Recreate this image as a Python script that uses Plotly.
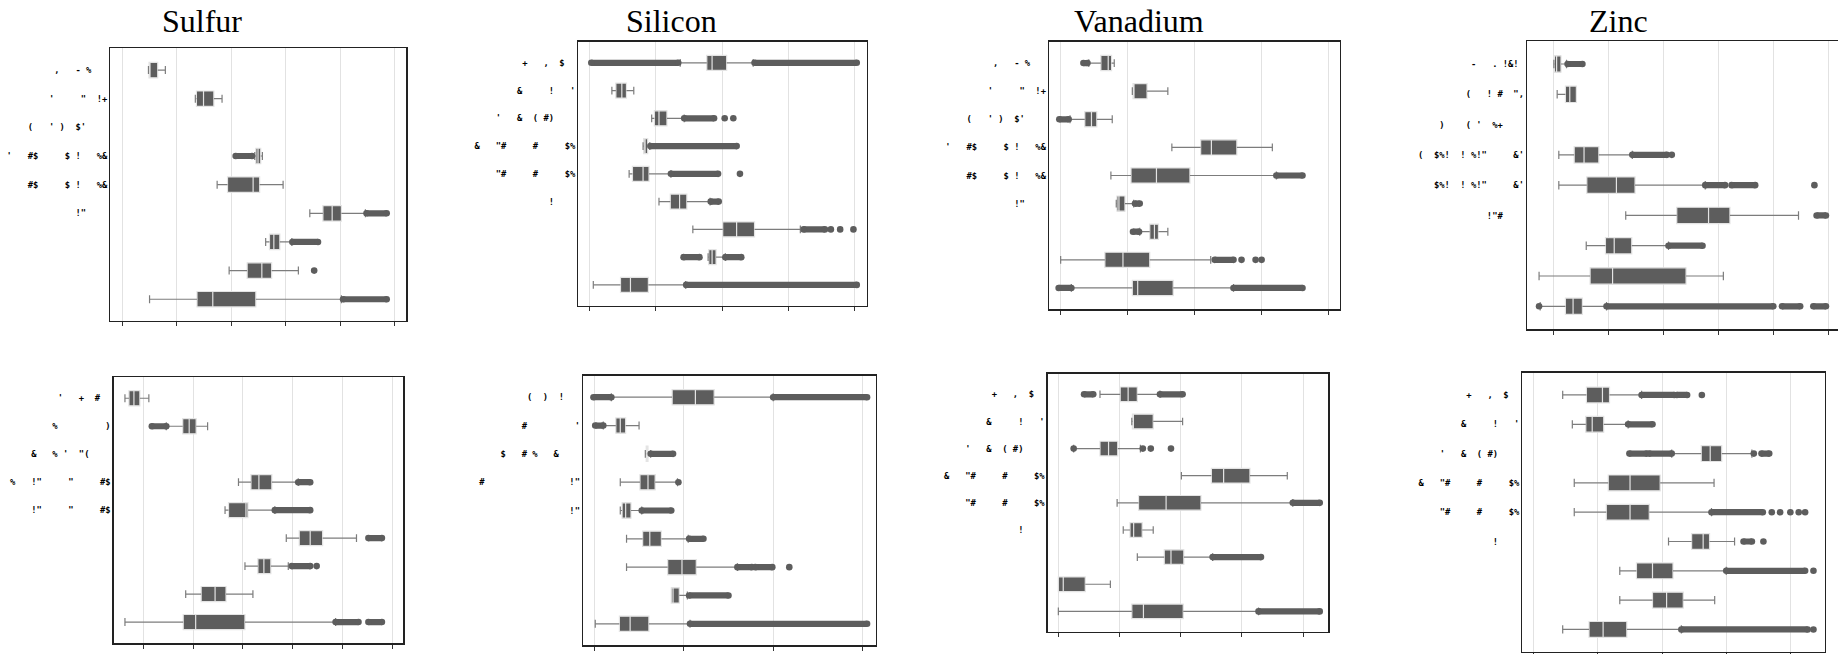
import math
import plotly.graph_objects as go

W, H = 1838, 654
NB = "\u00a0"

# ---------------- titles ----------------
titles = ["Sulfur", "Silicon", "Vanadium", "Zinc"]

# ---------------- row labels (garbled glyphs as rendered; "_" = blank glyph) ----------------
labels_a = [",___-_%___", "'_____\"__!+", "(___'_)__$'____", "'___#$_____$_!___%&", "#$_____$_!___%&", "!\"____"]
labels_b = ["+___,__$__", "&_____!___'", "'___&__(_#)____", "&___\"#_____#_____$%", "\"#_____#_____$%", "!____"]
labels_c = ["-___._!&!_", "(___!_#__\",", ")____(_'__%+____", "(__$%!__!_%!\"_____&'", "$%!__!_%!\"_____&'", "!\"#____"]
labels_d = ["'___+__#__", "%_________)", "&___%_'__\"(____", "%___!\"_____\"_____#$", "!\"_____\"_____#$"]
labels_e = ["(__)__!___", "#_________'", "$___#_%___&____", "#________________!\"", "!\""]

# ---------------- data (x in tick units, rows 0..8 top to bottom) ----------------
# Sulfur (top)
s1_lf  = [0.48, 1.34, None, 2.43, 1.74, 3.44, 2.63, 1.96, 0.50]
s1_q1  = [0.49, 1.36, None, 2.45, 1.93, 3.68, 2.70, 2.29, 1.37]
s1_med = [0.50, 1.49, None, 2.49, 2.40, 3.85, 2.78, 2.56, 1.66]
s1_q3  = [0.65, 1.68, None, 2.54, 2.52, 4.02, 2.89, 2.74, 2.45]
s1_uf  = [0.79, 1.83, None, 2.57, 2.95, 4.46, 3.11, 3.23, 4.02]
s1_runs = [(3, 2.08, 2.38), (5, 4.48, 4.85), (6, 3.12, 3.59), (8, 4.05, 4.85)]
s1_dots = [(7, 3.52)]

# Silicon (top)
s2_lf  = [1.37, 0.34, 0.94, 0.81, 0.60, 1.05, 1.56, 1.79, 0.06]
s2_q1  = [1.77, 0.40, 0.98, 0.82, 0.65, 1.22, 2.01, 1.80, 0.47]
s2_med = [1.85, 0.49, 1.05, 0.84, 0.81, 1.36, 2.22, 1.85, 0.62]
s2_q3  = [2.07, 0.56, 1.17, 0.88, 0.90, 1.47, 2.49, 1.91, 0.89]
s2_uf  = [2.47, 0.67, 1.43, 0.91, 1.23, 1.82, 3.18, 2.05, 1.45]
s2_runs = [(0, 0.03, 1.34), (0, 2.49, 4.03), (2, 1.43, 1.88), (3, 0.92, 2.22), (4, 1.23, 1.94),
           (5, 1.83, 1.95), (6, 3.23, 3.55), (7, 1.42, 1.66), (7, 2.05, 2.29), (8, 1.46, 4.03)]
s2_dots = [(2, 2.04), (2, 2.17), (4, 2.27), (6, 3.64), (6, 3.78), (6, 3.98)]

# Vanadium (top)
s3_lf  = [0.42, 1.07, 0.14, 1.66, 0.75, 0.83, 1.18, 0.00, 0.16]
s3_q1  = [0.60, 1.08, 0.36, 2.09, 1.05, 0.84, 1.33, 0.66, 1.07]
s3_med = [0.71, 1.09, 0.46, 2.25, 1.43, 0.87, 1.40, 0.93, 1.15]
s3_q3  = [0.76, 1.29, 0.54, 2.63, 1.93, 0.96, 1.46, 1.33, 1.68]
s3_uf  = [0.80, 1.60, 0.77, 3.16, 3.22, 1.09, 1.60, 2.24, 2.58]
s3_runs = [(0, 0.34, 0.40), (2, -0.02, 0.12), (4, 3.22, 3.61), (5, 1.11, 1.18), (6, 1.08, 1.17),
           (7, 2.30, 2.58), (8, -0.03, 0.16), (8, 2.58, 3.61)]
s3_dots = [(7, 2.70), (7, 2.91), (7, 3.00)]

# Zinc (top)
s4_lf  = [0.00, 0.06, None, 0.09, 0.09, 1.31, 0.59, -0.27, -0.25]
s4_q1  = [0.01, 0.21, None, 0.37, 0.60, 2.24, 0.94, 0.66, 0.21]
s4_med = [0.05, 0.29, None, 0.55, 1.14, 2.82, 1.10, 1.07, 0.35]
s4_q3  = [0.13, 0.41, None, 0.82, 1.48, 3.21, 1.42, 2.41, 0.52]
s4_uf  = [0.23, 0.41, None, 1.43, 2.76, 4.46, 2.09, 3.09, 0.96]
s4_runs = [(0, 0.25, 0.52), (3, 1.43, 2.06), (4, 2.76, 3.12), (4, 3.24, 3.67), (5, 4.79, 4.96),
           (6, 2.09, 2.71), (8, 0.96, 4.00), (8, 4.16, 4.49), (8, 4.73, 4.96)]
s4_dots = [(3, 2.15), (4, 4.75), (8, -0.27)]

# Sulfur (bottom)
s5_lf  = [-0.37, 0.46, None, 1.91, 1.64, 2.87, 2.04, 0.85, -0.37]
s5_q1  = [-0.29, 0.79, None, 2.16, 1.71, 3.13, 2.30, 1.16, 0.80]
s5_med = [-0.19, 0.92, None, 2.32, 2.06, 3.35, 2.42, 1.44, 1.05]
s5_q3  = [-0.07, 1.06, None, 2.58, 2.10, 3.60, 2.56, 1.66, 2.04]
s5_uf  = [0.11, 1.29, None, 3.11, 2.64, 4.28, 2.91, 2.20, 3.86]
s5_runs = [(1, 0.17, 0.46), (3, 3.11, 3.35), (4, 2.64, 3.35), (5, 4.52, 4.79), (6, 2.98, 3.35),
           (8, 3.86, 4.32), (8, 4.52, 4.79)]
s5_dots = [(6, 3.48)]

# Silicon (bottom)
s6_lf  = [0.19, 0.10, 0.57, 0.29, 0.29, 0.36, 0.36, 0.86, 0.01]
s6_q1  = [0.87, 0.24, 0.58, 0.51, 0.31, 0.54, 0.82, 0.86, 0.28]
s6_med = [1.13, 0.29, 0.58, 0.60, 0.35, 0.62, 0.98, 0.88, 0.40]
s6_q3  = [1.34, 0.35, 0.60, 0.68, 0.41, 0.75, 1.14, 0.95, 0.61]
s6_uf  = [2.00, 0.50, 0.63, 0.93, 0.53, 1.05, 1.60, 1.04, 1.07]
s6_runs = [(0, -0.01, 0.19), (0, 2.00, 3.05), (1, 0.01, 0.10), (2, 0.63, 0.88), (4, 0.53, 0.86),
           (5, 1.06, 1.22), (6, 1.60, 1.76), (6, 1.80, 1.99), (7, 1.06, 1.50), (8, 1.07, 3.05)]
s6_dots = [(3, 0.94), (6, 2.18)]

# Vanadium (bottom)
s7_lf  = [0.68, 1.20, 0.25, 2.01, 0.96, 1.06, 1.29, 0.00, 0.00]
s7_q1  = [1.01, 1.21, 0.68, 2.50, 1.31, 1.17, 1.73, 0.00, 1.20]
s7_med = [1.14, 1.21, 0.82, 2.70, 1.76, 1.23, 1.84, 0.08, 1.39]
s7_q3  = [1.29, 1.55, 0.97, 3.13, 2.33, 1.37, 2.05, 0.44, 2.04]
s7_uf  = [1.66, 2.03, 1.34, 3.74, 3.83, 1.55, 2.52, 0.85, 3.27]
s7_runs = [(0, 0.42, 0.57), (0, 1.66, 2.03), (4, 3.83, 4.27), (6, 2.52, 3.31), (8, 3.27, 4.27)]
s7_dots = [(2, 0.25), (2, 1.38), (2, 1.51), (2, 1.84)]

# Zinc (bottom)
s8_lf  = [0.45, 0.60, 2.15, 0.63, 0.63, 2.10, 1.34, 1.34, 0.45]
s8_q1  = [0.82, 0.81, 2.61, 1.16, 1.13, 2.46, 1.60, 1.85, 0.86]
s8_med = [1.07, 0.91, 2.75, 1.50, 1.50, 2.64, 1.85, 2.07, 1.08]
s8_q3  = [1.18, 1.09, 2.93, 1.97, 1.80, 2.74, 2.17, 2.33, 1.45]
s8_uf  = [1.68, 1.47, 3.40, 2.81, 2.77, 3.13, 3.00, 2.82, 2.30]
s8_runs = [(0, 1.68, 2.19), (0, 2.23, 2.39), (1, 1.47, 1.85), (2, 1.49, 1.76), (2, 1.80, 2.15),
           (2, 3.55, 3.67), (4, 2.77, 3.57), (5, 3.27, 3.40), (6, 3.00, 4.23), (8, 2.30, 4.27)]
s8_dots = [(0, 2.62), (2, 3.43), (4, 3.71), (4, 3.84), (4, 4.00), (4, 4.13), (4, 4.23),
           (5, 3.58), (6, 4.36), (8, 4.36)]

# ---------------- panel layout (pixel frames) ----------------
panels = [
    ((s1_lf, s1_q1, s1_med, s1_q3, s1_uf, s1_runs, s1_dots), labels_a, (110.3, 406.3, 48.3, 321.0), (-0.22, 5.21), True),
    ((s2_lf, s2_q1, s2_med, s2_q3, s2_uf, s2_runs, s2_dots), labels_b, (578.3, 866.7, 41.7, 306.0), (-0.166, 4.18), True),
    ((s3_lf, s3_q1, s3_med, s3_q3, s3_uf, s3_runs, s3_dots), labels_a, (1049.0, 1340.0, 41.7, 309.3), (-0.174, 4.17), True),
    ((s4_lf, s4_q1, s4_med, s4_q3, s4_uf, s4_runs, s4_dots), labels_c, (1527.0, 1838.0, 41.0, 329.3), (-0.49, 5.18), False),
    ((s5_lf, s5_q1, s5_med, s5_q3, s5_uf, s5_runs, s5_dots), labels_d, (113.7, 403.3, 377.0, 643.3), (-0.596, 5.22), True),
    ((s6_lf, s6_q1, s6_med, s6_q3, s6_uf, s6_runs, s6_dots), labels_e, (583.0, 876.0, 375.7, 645.3), (-0.127, 3.15), True),
    ((s7_lf, s7_q1, s7_med, s7_q3, s7_uf, s7_runs, s7_dots), labels_b, (1047.7, 1328.3, 373.7, 632.0), (-0.174, 4.41), True),
    ((s8_lf, s8_q1, s8_med, s8_q3, s8_uf, s8_runs, s8_dots), labels_b, (1522.3, 1825.0, 372.7, 651.7), (-0.18, 4.54), True),
]
title_pos = [(202, 21), (671, 21), (1139, 21), (1618, 21)]

BOX_FILL = "#5d5d5d"
BOX_EDGE = "#e4e4e4"
WHISK = "#7c7c7c"
PT = "#5d5d5d"
CAP = 0.14
BOXW = 0.54

fig = go.Figure()
layout = dict(
    width=W, height=H, autosize=False,
    margin=dict(l=0, r=0, t=0, b=0),
    paper_bgcolor="white", plot_bgcolor="white",
    showlegend=False, template="none",
)

for i, (stats, labels, frame, xr, right_line) in enumerate(panels, start=1):
    lf, q1, med, q3, uf, runs, dots = stats
    xa, ya = f"x{i}", f"y{i}"
    rows = [r for r in range(len(q1)) if q1[r] is not None]

    # whiskers + caps
    wx, wy = [], []
    for r in rows:
        if q1[r] - lf[r] > 0.004:
            wx += [lf[r], q1[r], None, lf[r], lf[r], None]
            wy += [r, r, None, r - CAP, r + CAP, None]
        if uf[r] - q3[r] > 0.004:
            wx += [q3[r], uf[r], None, uf[r], uf[r], None]
            wy += [r, r, None, r - CAP, r + CAP, None]
    fig.add_trace(go.Scatter(x=wx, y=wy, mode="lines", line=dict(color=WHISK, width=1.2),
                             xaxis=xa, yaxis=ya, hoverinfo="skip"))

    # boxes
    fig.add_trace(go.Box(
        orientation="h", y=rows,
        q1=[q1[r] for r in rows], median=[med[r] for r in rows], q3=[q3[r] for r in rows],
        lowerfence=[q1[r] for r in rows], upperfence=[q3[r] for r in rows],
        width=BOXW, whiskerwidth=0, fillcolor=BOX_FILL,
        line=dict(color=BOX_EDGE, width=1.2), boxpoints=False,
        xaxis=xa, yaxis=ya, hoverinfo="skip"))

    # dense outlier runs
    rx, ry = [], []
    for (r, a, b) in runs:
        rx += [a, b, None]
        ry += [r, r, None]
    fig.add_trace(go.Scatter(x=rx, y=ry, mode="lines+markers",
                             line=dict(color=PT, width=6.2),
                             marker=dict(color=PT, size=6.6, line=dict(width=0)),
                             xaxis=xa, yaxis=ya, hoverinfo="skip"))
    # isolated outliers
    fig.add_trace(go.Scatter(x=[v for (_, v) in dots], y=[r for (r, _) in dots], mode="markers",
                             marker=dict(color=PT, size=6.6, line=dict(width=0)),
                             xaxis=xa, yaxis=ya, hoverinfo="skip"))

    x0, x1, y0, y1 = frame
    tv = [t for t in range(math.ceil(xr[0]), math.floor(xr[1]) + 1)]
    layout[f"xaxis{i}"] = dict(
        domain=[x0 / W, x1 / W], range=list(xr), anchor=ya,
        tickvals=tv, showticklabels=False, ticks="outside", ticklen=4, tickwidth=1, tickcolor="#333",
        showgrid=True, gridcolor="#e2e2e2", gridwidth=1, zeroline=False,
        showline=True, linecolor="#222", linewidth=1.3, mirror=True, fixedrange=True)
    layout[f"yaxis{i}"] = dict(
        domain=[1 - y1 / H, 1 - y0 / H], range=[8.76, -0.76], anchor=xa,
        tickvals=list(range(len(labels))), ticktext=[s.replace("_", NB) for s in labels],
        ticks="", showgrid=False, zeroline=False,
        tickfont=dict(family="DejaVu Sans Mono", size=8.8, color="#000000", weight="bold"),
        showline=True, linecolor="#222", linewidth=1.3, mirror=right_line, fixedrange=True)

annotations = []
for t, (px, py) in zip(titles, title_pos):
    annotations.append(dict(text=t, x=px / W, y=1 - py / H, xref="paper", yref="paper",
                            xanchor="center", yanchor="middle", showarrow=False,
                            font=dict(family="Liberation Serif", size=32, color="black")))
layout["annotations"] = annotations

fig.update_layout(**layout)
fig.write_html("out.html",
               config={"displayModeBar": False, "staticPlot": True},
               post_script="document.body.style.margin='0';document.body.style.overflow='hidden';")
